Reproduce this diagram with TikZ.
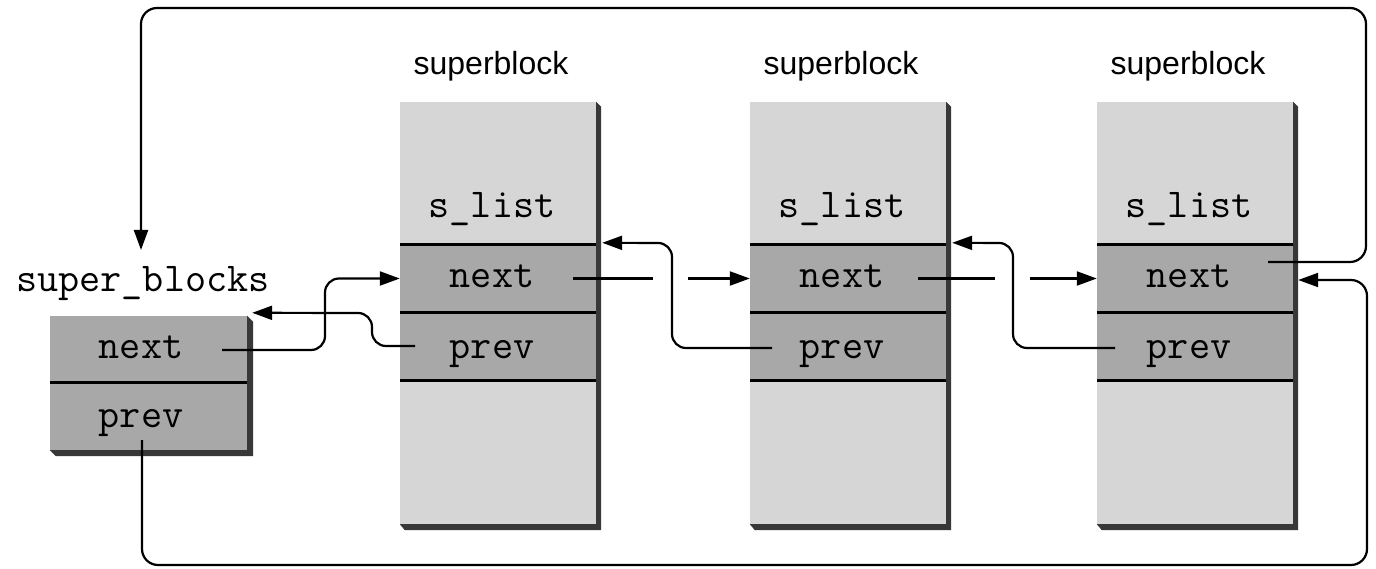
\documentclass[tikz,border=0pt]{standalone}
\usepackage{fontspec}
\setsansfont{Liberation Sans}
\usetikzlibrary{arrows.meta,calc}
\definecolor{lightfill}{gray}{0.84}
\definecolor{midfill}{gray}{0.66}
\definecolor{shadowc}{gray}{0.22}
\begin{document}
\begin{tikzpicture}[x=1pt,y=-1pt,
  conn/.style={line width=2.2pt, rounded corners=14pt},
  arr/.style={conn, -{Triangle[length=20pt,width=14pt]}},
  lightfield/.style={fill=lightfill, draw=none, inner sep=0pt, minimum width=196pt},
  midfield/.style={fill=midfill, draw=none, inner sep=0pt, minimum width=196pt},
  sbfield/.style={fill=midfill, draw=none, inner sep=0pt, minimum width=197pt},
  divider/.style={line width=3pt, black},
  mono/.style={font=\ttfamily\fontsize{41}{44}\selectfont, inner sep=0pt},
  title/.style={font=\sffamily\fontsize{32}{36}\selectfont, inner sep=0pt}]
\useasboundingbox (0,0) rectangle (1376,569);

% super_blocks head
\node[sbfield, minimum height=66pt] (sbnext) at (148.5,349) {};
\node[sbfield, minimum height=68pt] (sbprev) at (148.5,416) {};
\fill[shadowc] (sbnext.north east) -- ++(6,6) -- ($(sbprev.south east)+(6,6)$)
  -- ($(sbprev.south west)+(6,6)$) -- (sbprev.south west) -- (sbprev.south east) -- cycle;
\draw[divider] (sbnext.south west) -- (sbnext.south east);
\node[mono, anchor=base] (sbtitle) at (143,292) {super\_blocks};
\node[mono, anchor=base] (sbnexttext) at (141,358) {next};
\node[mono, anchor=base] (sbprevtext) at (141,427) {prev};

% superblocks
\foreach \i/\cx in {1/498,2/848,3/1195} {
  \node[lightfield, minimum height=143pt] (c\i-top) at (\cx,173.5) {};
  \node[midfield, minimum height=67pt] (c\i-next) at (\cx,278.5) {};
  \node[midfield, minimum height=68pt] (c\i-prev) at (\cx,346) {};
  \node[lightfield, minimum height=144pt] (c\i-rest) at (\cx,452) {};
  \fill[shadowc] (c\i-top.north east) -- ++(5,5) -- ($(c\i-rest.south east)+(5,6)$)
    -- ($(c\i-rest.south west)+(5,6)$) -- (c\i-rest.south west) -- (c\i-rest.south east) -- cycle;
  \draw[divider] (c\i-next.north west) -- (c\i-next.north east);
  \draw[divider] (c\i-next.south west) -- (c\i-next.south east);
  \draw[divider] (c\i-prev.south west) -- (c\i-prev.south east);
  \node[title, anchor=base] (c\i-title) at (\cx-7,75) {superblock};
  \node[mono, anchor=base] (c\i-slist) at (\cx-6,218) {s\_list};
  \node[mono, anchor=base] (c\i-nexttext) at (\cx-6,288) {next};
  \node[mono, anchor=base] (c\i-prevtext) at (\cx-6,358) {prev};
}

% free ends
\coordinate (sbnextout) at (222,350);
\coordinate (sbprevout) at (142,440);
\coordinate (sbin) at (141,250);
\coordinate (c1nextout) at (573,278.5);
\coordinate (c1prevout) at (415,346);
\coordinate (c2nextout) at (918,278.5);
\coordinate (c2prevout) at (772,348);
\coordinate (c3nextout) at (1268,262);
\coordinate (c3prevout) at (1115,348);
\coordinate (gap1a) at (653,278.5);
\coordinate (gap1b) at (688,278.5);
\coordinate (gap2a) at (995,278.5);
\coordinate (gap2b) at (1030,278.5);

% connectors
\draw[arr] (sbnextout) -- (325,350) -- (325,278.5) -- (c1-next.west);
\draw[arr] (c1prevout) -- (372,346) -- (372,313) -- ($(sbnext.north east)+(5,-3)$);
\draw[conn] (c1nextout) -- (gap1a);
\draw[arr] (gap1b) -- (c2-next.west);
\draw[arr] (c2prevout) -- (672,348) -- (672,243) -- ($(c1-next.north east)+(6,-2)$);
\draw[conn] (c2nextout) -- (gap2a);
\draw[arr] (gap2b) -- (c3-next.west);
\draw[arr] (c3prevout) -- (1013,348) -- (1013,243) -- ($(c2-next.north east)+(6,-2)$);
\draw[arr, rounded corners=16pt] (c3nextout) -- (1366,262) -- (1366,8) -- (141,8) -- (sbin);
\draw[arr, rounded corners=16pt] (sbprevout) -- (142,565) -- (1367,565) -- (1367,280) -- ($(c3-next.east)+(5,1.5)$);
\end{tikzpicture}
\end{document}
